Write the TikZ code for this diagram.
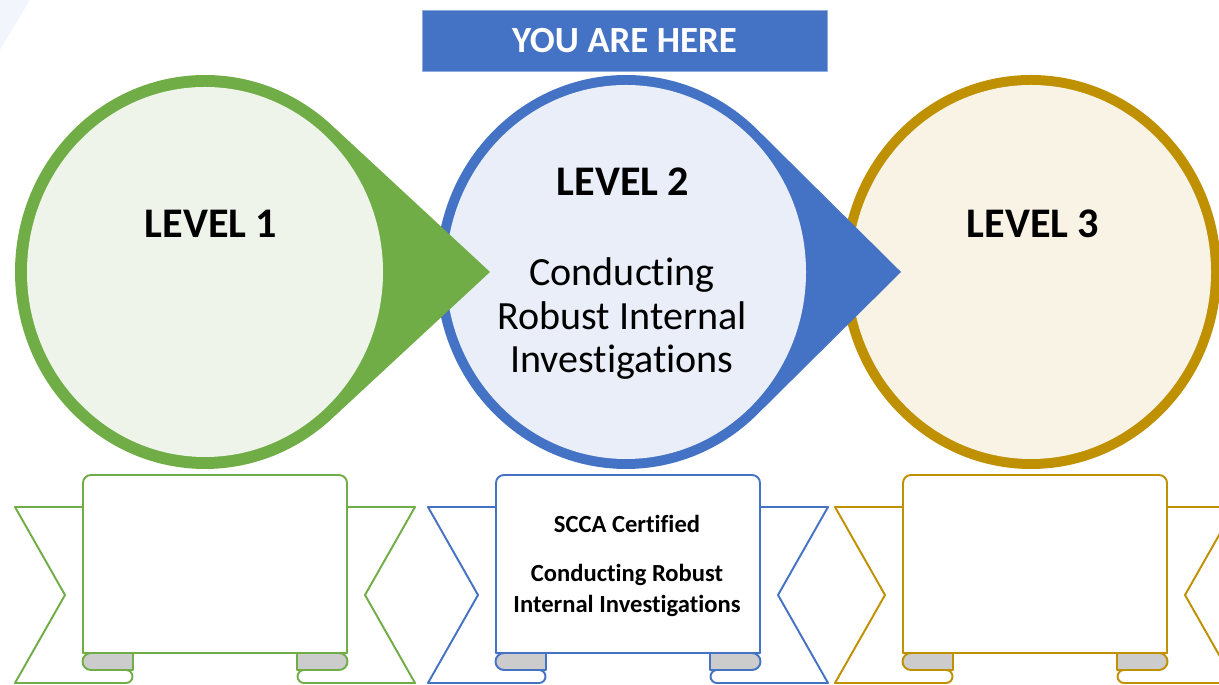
\documentclass[tikz,border=0pt]{standalone}
\usepackage{fontspec}
\setmainfont{Carlito}[Ligatures=NoCommon]
\definecolor{lvgreen}{HTML}{70AD47}
\definecolor{lvgreenlt}{HTML}{EEF4EA}
\definecolor{lvblue}{HTML}{4472C4}
\definecolor{lvbluelt}{HTML}{E9EEF8}
\definecolor{lvgold}{HTML}{BF9000}
\definecolor{lvgoldlt}{HTML}{F9F3E5}
\begin{document}
\begin{tikzpicture}[x=0.02cm,y=0.02cm,line join=round,line cap=round,
	lvl/.style={font=\bfseries\fontsize{24}{28}\selectfont,anchor=base},
	txt/.style={font=\fontsize{22.8}{26}\selectfont,anchor=base},
	tag/.style={font=\bfseries\fontsize{14}{17}\selectfont,anchor=base}]
		\def\banner#1#2{%
			\begin{scope}[shift={(#1,0)},#2,line width=1.1pt]
			\draw (-132,178)--(-200,178)--(-150,90)--(-200,2)--(-89,2) arc[start angle=-90,end angle=90,radius=6.5];
			\draw (132,178)--(200,178)--(150,90)--(200,2)--(89,2) arc[start angle=270,end angle=90,radius=6.5];
			\draw[fill=white,rounded corners=0.16cm] (-132,32)--(-132,210)--(132,210)--(132,32);
			\draw (-132,32)--(132,32);
			\draw[fill=gray!40] (-82,32)--(-124,32) arc[start angle=90,end angle=270,radius=8.5]--(-82,15)--cycle;
			\draw[fill=gray!40] (82,32)--(124,32) arc[start angle=90,end angle=-90,radius=8.5]--(82,15)--cycle;
			\end{scope}}
		\useasboundingbox (0,0) rectangle (1219,685);
		\fill[lvbluelt!60] (0,685)--(30,685)--(0,635)--cycle;
		% level 3
		\fill[lvgold] (1031,413) ellipse[x radius=190,y radius=197];
		\fill[lvgoldlt] (1031,413) ellipse[x radius=180,y radius=187];
		% level 2
		\fill[lvblue] (901,413)--([shift={(626,413)}]46.3:190 and 197)
		arc[start angle=46.3,end angle=313.7,x radius=190,y radius=197]--cycle;
		\fill[lvbluelt] (626,413) ellipse[x radius=180,y radius=187];
		% level 1
		\fill[lvgreen] (490,413)--([shift={(205,413)}]48.2:190 and 197)
		arc[start angle=48.2,end angle=311.8,x radius=190,y radius=197]--cycle;
		\fill[lvgreenlt] (205,413) ellipse[x radius=178,y radius=185];
		\draw[fill=lvblue,draw=lvblue!60] (422,614) rectangle (827,675);
		\node[font=\bfseries\fontsize{21}{25}\selectfont,text=white,anchor=base] (here) at (624.5,632) {YOU ARE HERE};
		\node[lvl] (lvone) at (211,447) {LEVEL 1};
		\node[lvl] (lvtwo) at (623,489) {LEVEL 2};
		\node[lvl] (lvthree) at (1033,447) {LEVEL 3};
		\node[txt] (crsa) at (622,399) {Conducting};
		\node[txt] (crsb) at (622,355) {Robust Internal};
		\node[txt] (crsc) at (622,312) {Investigations};
		% scrolls
		\banner{215}{lvgreen}
		\banner{628}{lvblue}
		\banner{1035}{lvgold}
		\node[tag] (cert) at (627,152) {SCCA Certified};
		\node[tag] (certa) at (627,103) {Conducting Robust};
		\node[tag] (certb) at (627,72) {Internal Investigations};
		\end{tikzpicture}
\end{document}
